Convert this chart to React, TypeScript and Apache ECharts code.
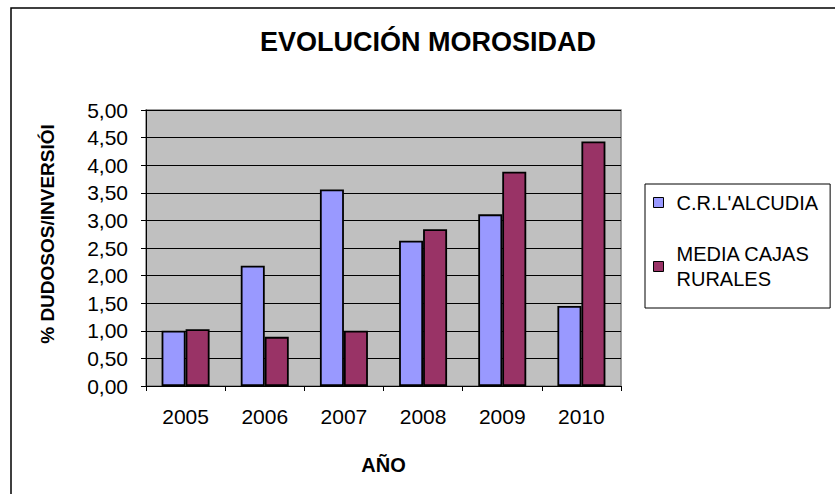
import React, { useEffect, useRef } from "react";
import * as echarts from "echarts";

const TITLE = "EVOLUCIÓN MOROSIDAD";
const Y_NAME = "% DUDOSOS/INVERSIÓI";
const X_NAME = "AÑO";
const CATEGORIES = ["2005", "2006", "2007", "2008", "2009", "2010"];
const SERIES_A_NAME = "C.R.L'ALCUDIA";
const SERIES_B_NAME = "MEDIA CAJAS RURALES";
const SERIES_A = [1.0, 2.18, 3.56, 2.63, 3.11, 1.45];
const SERIES_B = [1.03, 0.89, 1.0, 2.84, 3.88, 4.43];

const FONT = "'Liberation Sans', Arial, sans-serif";

export default function App() {
  const ref = useRef<HTMLDivElement>(null);
  useEffect(() => {
    document.body.style.margin = "0";
    const chart = echarts.init(ref.current!, undefined, { renderer: "svg" });
    chart.setOption({
      animation: false,
      backgroundColor: "#ffffff",
      textStyle: { fontFamily: FONT },
      title: {
        text: TITLE,
        left: 260,
        top: 28,
        padding: 0,
        textStyle: { fontFamily: FONT, fontSize: 27, fontWeight: "bold", color: "#000" },
      },
      legend: {
        orient: "vertical",
        left: 645,
        top: 184,
        padding: [6, 12, 4, 8],
        itemGap: 14,
        itemWidth: 10,
        itemHeight: 10,
        icon: "rect",
        borderColor: "#000",
        borderWidth: 1,
        itemStyle: { borderColor: "#000", borderWidth: 1 },
        textStyle: {
          fontFamily: FONT,
          fontSize: 20,
          color: "#000",
          lineHeight: 25,
          padding: [0, 0, 0, 8],
        },
        formatter: (name: string) =>
          name === SERIES_B_NAME ? "MEDIA CAJAS\nRURALES" : name,
        data: [
          { name: SERIES_A_NAME },
          { name: SERIES_B_NAME, textStyle: { padding: [25, 0, 0, 8] } },
        ],
      },
      graphic: [
        {
          type: "rect",
          shape: { x: 11, y: 8, width: 1200, height: 1200 },
          style: { fill: "none", stroke: "#000", lineWidth: 1.5 },
          silent: true,
        },
      ],
      grid: {
        left: 146,
        top: 110,
        width: 475,
        height: 276,
        show: true,
        backgroundColor: "#C0C0C0",
        borderColor: "#808080",
        borderWidth: 1.5,
      },
      xAxis: {
        type: "category",
        data: CATEGORIES,
        name: X_NAME,
        nameLocation: "middle",
        nameGap: 69,
        nameTextStyle: { fontFamily: FONT, fontSize: 20, fontWeight: "bold", color: "#000" },
        axisLine: { show: true, lineStyle: { color: "#000", width: 1 } },
        axisTick: { show: true, length: 5, lineStyle: { color: "#000" } },
        axisLabel: { fontFamily: FONT, fontSize: 21, color: "#000", margin: 20 },
        splitLine: { show: false },
      },
      yAxis: {
        type: "value",
        min: 0,
        max: 5,
        interval: 0.5,
        name: Y_NAME,
        nameLocation: "middle",
        nameGap: 89,
        nameTextStyle: {
          fontFamily: FONT,
          fontSize: 19,
          fontWeight: "bold",
          color: "#000",
          padding: [0, 0, 0, 28],
        },
        axisLine: { show: true, lineStyle: { color: "#000", width: 1 } },
        axisTick: { show: true, length: 5, lineStyle: { color: "#000" } },
        axisLabel: {
          fontFamily: FONT,
          fontSize: 21,
          color: "#000",
          margin: 18,
          formatter: (v: number) => v.toFixed(2).replace(".", ","),
        },
        splitLine: { show: true, lineStyle: { color: "#000", width: 1 } },
      },
      series: [
        {
          name: SERIES_A_NAME,
          type: "bar",
          data: SERIES_A,
          barWidth: 24,
          barGap: "0%",
          itemStyle: { color: "#9999FF", borderColor: "#000", borderWidth: 1.8 },
        },
        {
          name: SERIES_B_NAME,
          type: "bar",
          data: SERIES_B,
          barWidth: 24,
          barGap: "0%",
          itemStyle: { color: "#993366", borderColor: "#000", borderWidth: 1.8 },
        },
      ],
    });
    return () => chart.dispose();
  }, []);
  return <div ref={ref} style={{ width: 835, height: 494 }} />;
}
